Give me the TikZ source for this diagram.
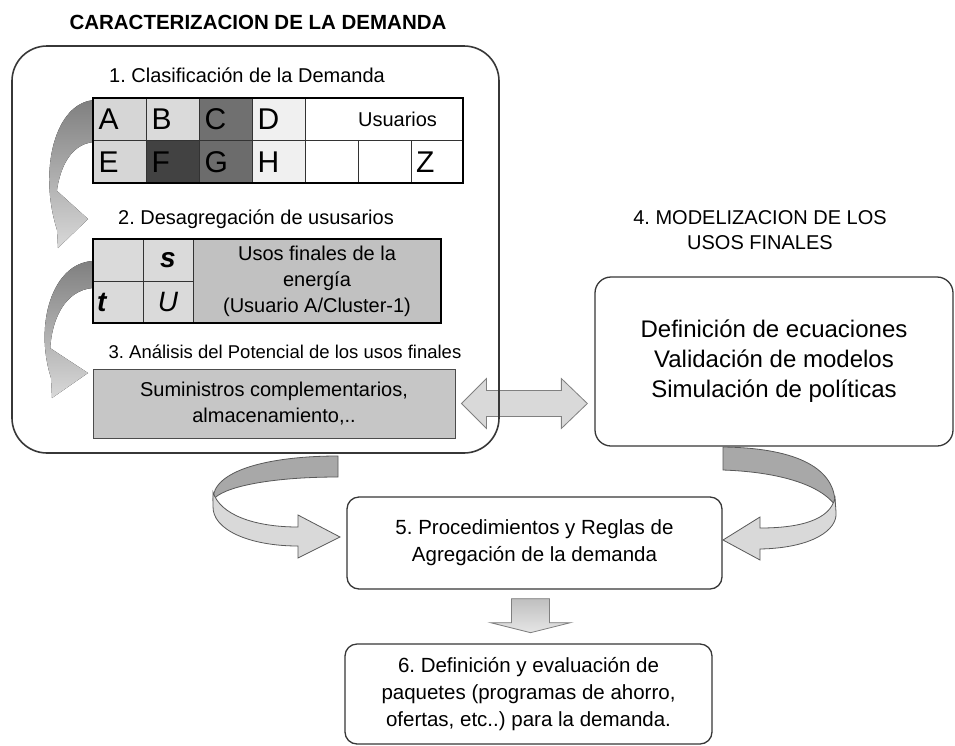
\documentclass[tikz,border=0pt]{standalone}
\usepackage{fontspec}
\setmainfont{Liberation Sans}
\usepackage{tikz}
\usetikzlibrary{arrows.meta,positioning,shapes,calc,backgrounds}
\frenchspacing
\definecolor{borde}{RGB}{55,55,55}
\definecolor{grisclaro}{RGB}{217,217,217}
\definecolor{grismedio}{RGB}{198,198,198}
\definecolor{grisoscuro}{RGB}{168,168,168}
\definecolor{celdaA}{RGB}{214,214,214}
\definecolor{celdaB}{RGB}{218,218,218}
\definecolor{celdaC}{RGB}{112,112,112}
\definecolor{celdaD}{RGB}{240,240,240}
\definecolor{celdaF}{RGB}{66,66,66}
\definecolor{celdaG}{RGB}{108,108,108}

\begin{document}
\begin{tikzpicture}[x=1pt, y=-1pt,
        every node/.style={font=\fontsize{20}{26}\selectfont},
        titulo/.style={font=\fontsize{20.5}{24}\selectfont\bfseries, inner sep=0pt},
        etiqueta/.style={align=center, inner sep=0pt},
        grande/.style={draw=borde, line width=1.6pt, rounded corners=35pt,
                       minimum width=487pt, minimum height=407pt},
        celda/.style={draw=black!80, line width=0.8pt, outer sep=0pt, inner sep=0pt,
                      minimum width=53pt, minimum height=42.5pt},
        letra/.style={celda, font=\fontsize{30}{30}\selectfont, text width=42pt, align=left},
        celdados/.style={celda, minimum width=50pt, minimum height=42pt, fill=celdaB,
                         font=\fontsize{28}{28}\selectfont},
        caja/.style={draw=borde, line width=1.3pt, rounded corners=12pt, align=center},
        bloque/.style={fill=grisclaro, draw=black!50, line width=0.8pt},
        cinta/.style={draw=black!65, line width=0.8pt}
    ]
    \useasboundingbox (0,0) rectangle (955,745);
    \node[titulo] (titulo) at (258,22) {CARACTERIZACION DE LA DEMANDA};
    \node[grande] (demanda) at (255.5,249.5) {};
    \node[etiqueta] (clasif) at (247,75) {1. Clasificación de la Demanda};

    \fill[top color=black!50, bottom color=black!15] (95,100) .. controls (55,102) and (38,170) .. (57,230)
        -- (58,248) -- (88,219) -- (56,190) -- (56,205) .. controls (56,175) and (68,143) .. (95,142) -- cycle;
    \fill[top color=black!50, bottom color=black!15] (93,261) .. controls (52,263) and (34,325) .. (51,378)
        -- (52,398) -- (88,373) -- (50,348) -- (50,356) .. controls (50,320) and (65,290) .. (93,288) -- cycle;

    \node[letra, fill=celdaA, anchor=north west] (A) at (93,98) {A};
    \node[letra, fill=celdaB, right=0pt of A] (B) {B};
    \node[letra, fill=celdaC, right=0pt of B] (C) {C};
    \node[letra, fill=celdaD, right=0pt of C] (D) {D};
    \node[celda, right=0pt of D, minimum width=158pt, text width=106pt, align=right] (usuarios) {Usuarios};
    \node[letra, fill=celdaA, below=0pt of A] (E) {E};
    \node[letra, fill=celdaF, right=0pt of E] (F) {F};
    \node[letra, fill=celdaG, right=0pt of F] (G) {G};
    \node[letra, fill=celdaD, right=0pt of G] (H) {H};
    \node[celda, right=0pt of H] (v1) {};
    \node[celda, right=0pt of v1] (v2) {};
    \node[letra, right=0pt of v2, minimum width=52pt] (Z) {Z};
    \draw[line width=2.2pt] (A.north west) rectangle (Z.south east);

    \node[etiqueta] (desag) at (256,219) {2. Desagregación de ususarios};
    \node[celdados, anchor=north west] (t1) at (93,239) {};
    \node[celdados, right=0pt of t1] (s) {\bfseries\itshape s};
    \node[celdados, below=0pt of t1, text width=42pt, align=left] (t) {\bfseries\itshape t};
    \node[celdados, right=0pt of t] (U) {\itshape U};
    \node[celda, anchor=north west, minimum width=248pt, minimum height=84pt, fill=grismedio!108,
          align=center] (usos) at (s.north east) {Usos finales de la\\energía\\(Usuario A/Cluster-1)};
    \draw[line width=2.2pt] (t1.north west) rectangle (usos.south east);

    \node[etiqueta, font=\fontsize{18.5}{22}\selectfont] (analisis) at (285,352)
        {3. Análisis del Potencial de los usos finales};
    \node[draw=black!70, line width=1pt, fill=grismedio, minimum width=362pt, minimum height=69pt,
          align=center] (sumin) at (274,403.5) {Suministros complementarios,\\almacenamiento,..};

    \node[etiqueta, font=\fontsize{20}{25}\selectfont] (modtit) at (760,230.5) {4. MODELIZACION DE LOS\\USOS FINALES};
    \node[caja, rounded corners=16pt, minimum width=358pt, minimum height=169pt,
          font=\fontsize{24}{30}\selectfont] (modelos) at (774,361.5)
        {Definición de ecuaciones\\Validación de modelos\\Simulación de políticas};
    \node[caja, minimum width=375pt, minimum height=92pt, font=\fontsize{20.5}{27}\selectfont] (agreg)
        at (534.5,543) {5. Procedimientos y Reglas de\\Agregación de la demanda};
    \node[caja, minimum width=367pt, minimum height=100pt, font=\fontsize{20.5}{27}\selectfont] (paquetes)
        at (528.5,694) {6. Definición y evaluación de\\paquetes (programas de ahorro,\\ofertas, etc..) para la demanda.};

    \coordinate (d1) at ($(sumin.east)+(6,0)$);
    \coordinate (d2) at ($(modelos.west |- sumin.east)+(-7,0)$);
    \coordinate (b1) at ($(agreg.south)+(-4,9)$);
    \begin{pgfonlayer}{background}
        \fill[white] (0,0) rectangle (955,745);
        \draw[bloque] (d1) -- ++(25,-25) -- ++(0,12) -- ($(d2)+(-26,-13)$) -- ++(0,-12) -- (d2)
            -- ++(-26,25) -- ++(0,-12) -- ($(d1)+(25,13)$) -- ++(0,12) -- cycle;
    \end{pgfonlayer}
    \draw[bloque, top color=black!25, bottom color=black!10] ($(b1)+(-19,0)$) -- ++(38,0) -- ++(0,24) -- ++(21,0)
        -- ($(b1)+(0,34)$) -- ++(-40,-10) -- ++(21,0) -- cycle;

    \filldraw[cinta, fill=grisoscuro] (338,456) .. controls (270,456) and (212,470) .. (213,500)
        .. controls (222,487) and (270,477) .. (338,477) -- cycle;
    \filldraw[cinta, fill=grisclaro] (213,492) .. controls (220,515) and (255,527) .. (298,527) -- (298,515)
        -- (340,537) -- (298,558) -- (298,546) .. controls (250,546) and (212,530) .. (213,506) -- cycle;
    \filldraw[cinta, fill=grisoscuro] (723,447) .. controls (800,448) and (836,470) .. (835,505)
        .. controls (820,485) and (780,472) .. (723,470) -- cycle;
    \filldraw[cinta, fill=grisclaro] (835,498) .. controls (830,520) and (800,528) .. (760,528) -- (760,517)
        -- (723,540) -- (760,560) -- (760,549) .. controls (812,548) and (838,530) .. (836,512) -- cycle;
\end{tikzpicture}
\end{document}
